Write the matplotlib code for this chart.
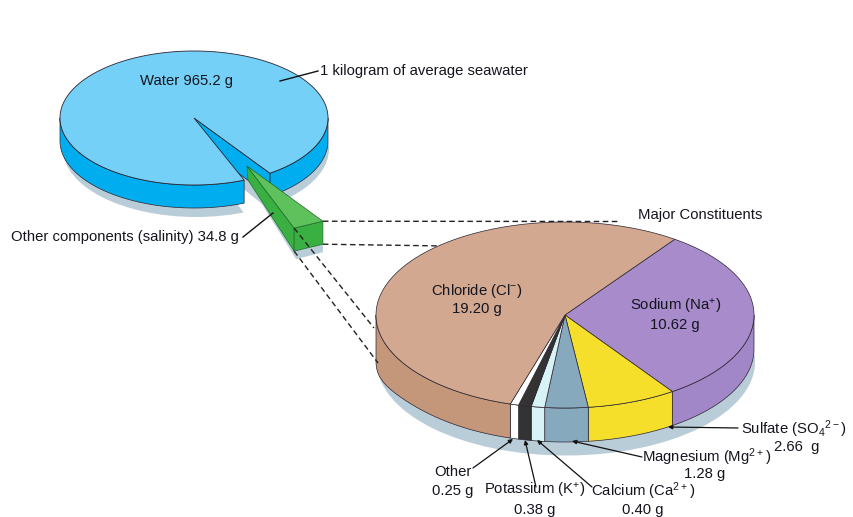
import numpy as np
import matplotlib
matplotlib.use("Agg")
import matplotlib.pyplot as plt
from matplotlib.patches import Polygon, Ellipse

plt.rcParams['font.family'] = ['Liberation Sans', 'DejaVu Sans']
plt.rcParams['mathtext.fontset'] = 'custom'
plt.rcParams['mathtext.rm'] = 'Liberation Sans'
plt.rcParams['mathtext.default'] = 'regular'

# grams per kilogram of seawater
water_g = 965.2
salinity_g = 34.8

major_names = ['Sodium', 'Sulfate', 'Magnesium', 'Calcium', 'Potassium', 'Other', 'Chloride']
major_g = [10.62, 2.66, 1.28, 0.40, 0.38, 0.25, 19.20]
major_top = ['#A88BCB', '#F5DF2A', '#87A9BE', '#D8F3F6', '#333333', '#FFFFFF', '#D2A890']
major_side = ['#A287C8', '#F5DF2A', '#87A9BE', '#D8F3F6', '#333333', '#FFFFFF', '#C4967A']

TEXT = '#15151f'
LINE = '#2b2430'
SHADOW = '#B9CDD9'

fig = plt.figure(figsize=(8.54, 5.17), dpi=100)
ax = fig.add_axes([0, 0, 1, 1])
ax.set_xlim(0, 854)
ax.set_ylim(517, 0)
ax.axis('off')


def arc(cx, cy, a, b, t0, t1):
    t = np.radians(np.linspace(t0, t1, max(int(abs(t1 - t0)) * 2, 2)))
    return np.column_stack([cx + a * np.cos(t), cy + b * np.sin(t)])


def top_face(cx, cy, a, b, t0, t1, color, z, lw=0.6):
    pts = np.vstack([[cx, cy], arc(cx, cy, a, b, t0, t1)])
    ax.add_patch(Polygon(pts, closed=True, fc=color, ec=LINE, lw=lw, zorder=z))


def side_face(cx, cy, a, b, depth, t0, t1, color, z, flare=0):
    # only the part of the rim that faces the viewer is drawn
    for lo, hi in [(-360, -180), (0, 180), (360, 540)]:
        s, e = max(t0, lo), min(t1, hi)
        if e <= s:
            continue
        upper = arc(cx, cy, a, b, s, e)
        # the rim gets a little deeper towards its far left end
        c = (upper[:, 0] - cx) / a
        drop = depth + flare * np.where(c < 0, c, 0) ** 12
        lower = (upper + np.column_stack([np.zeros(len(c)), drop]))[::-1]
        ax.add_patch(Polygon(np.vstack([upper, lower]), closed=True, fc=color,
                             ec=LINE, lw=0.5, zorder=z))


# small pie: water plus the pulled out salinity slice
cx1, cy1, a1, b1, d1 = 194, 118, 134, 67, 23
salt_start = 55.5
salt_end = salt_start + salinity_g / (water_g + salinity_g) * 360
water_end = salt_start + 360
ax.add_patch(Ellipse((196, 149), 266, 136, fc=SHADOW, ec='none', zorder=1))

# gap in the shadow under the missing slice
gap = np.vstack([[cx1, cy1 + 31], arc(cx1, cy1 + 31, 134, 69, salt_start + 2, salt_end)])
ax.add_patch(Polygon(gap, closed=True, fc='white', ec='none', zorder=1.1))

side_face(cx1, cy1, a1, b1, d1, salt_end, water_end, '#00AEEF', 2)
p_r = arc(cx1, cy1, a1, b1, salt_start, salt_start + 0.01)[0]
wall = np.array([[cx1, cy1], p_r, p_r + [0, d1], [cx1, cy1 + d1]])
ax.add_patch(Polygon(wall, closed=True, fc='#00AEEF', ec=LINE, lw=0.5, zorder=2))
top_face(cx1, cy1, a1, b1, salt_end, water_end, '#75D0F7', 3)

# pulled out slice
ox, oy = 53, 48
gx, gy = cx1 + ox, cy1 + oy
g_r = arc(gx, gy, a1, b1, salt_start, salt_start + 0.01)[0]
g_l = arc(gx, gy, a1, b1, salt_end, salt_end + 0.01)[0] + [-3, 0]
g_apex = np.array([gx, gy])
ax.add_patch(Polygon([g_apex + [0, 14], g_l + [2, 31], g_r + [0, 31], g_r + [0, 20], g_l + [0, 20]],
                     closed=True, fc=SHADOW, ec='none', zorder=4))
ax.add_patch(Polygon([g_apex, g_apex + [1, 14], g_l + [0, d1], g_l], closed=True,
                     fc='#39B041', ec='#1d6b28', lw=0.5, zorder=5))
ax.add_patch(Polygon([g_l, g_r, g_r + [0, d1], g_l + [0, d1]], closed=True,
                     fc='#39B041', ec='#1d6b28', lw=0.5, zorder=5))
ax.add_patch(Polygon([g_apex, g_r, g_l], closed=True, fc='#5EC15C', ec='#1d6b28', lw=0.5, zorder=5))

# big pie: breakdown of the salinity slice
cx2, cy2, a2, b2, d2 = 565, 315, 189, 93, 34
ax.add_patch(Ellipse((566, 362), 378, 187, fc=SHADOW, ec='none', zorder=1))

angles = np.cumsum([0] + [g / sum(major_g) * 360 for g in major_g]) - 54.5
for i in range(len(major_g)):
    side_face(cx2, cy2, a2, b2, d2, angles[i], angles[i + 1], major_side[i], 2, flare=12)
for i in range(len(major_g)):
    top_face(cx2, cy2, a2, b2, angles[i], angles[i + 1], major_top[i], 3, lw=0.5)

# dashed guides from the pulled out slice to the big pie
for start, end, z in [(g_r, (618, 221.5), 4), (g_r + [0, d1], (445, 246), 0.5),
                      (g_l, (374, 328), 6), (g_l + [0, d1], (378, 363), 6)]:
    ax.plot([start[0], end[0]], [start[1], end[1]], color='#222222', lw=1.0,
            dashes=(4, 2.5), zorder=z)

# leaders
for x0, y0, x1, y1 in [(280, 81, 318, 71), (243, 237, 273, 213)]:
    ax.plot([x0, x1], [y0, y1], color='#111111', lw=1.0, zorder=7)

arrows = [((738, 428), (668, 427)), ((642, 457), (572, 441)), ((473, 468), (513, 439)),
          ((536, 487), (525, 440)), ((592, 487), (537, 440))]
for tail, head in arrows:
    ax.annotate('', xy=head, xytext=tail, zorder=7,
                arrowprops=dict(arrowstyle='-|>', color='#111111', lw=0.9,
                                mutation_scale=6, shrinkA=0, shrinkB=0))

# labels
FS = 10.7
labels = [
    (187, 81, 'center', 'Water 965.2 g'),
    (320, 71, 'left', '1 kilogram of average seawater'),
    (11, 237, 'left', 'Other components (salinity) 34.8 g'),
    (638, 215, 'left', 'Major Constituents'),
    (477, 291, 'center', 'Chloride (Cl$^{-}$)'),
    (477, 309, 'center', '19.20 g'),
    (676, 306, 'center', 'Sodium (Na$^{+}$)'),
    (675, 325, 'center', '10.62 g'),
    (741, 429, 'left', 'Sulfate (SO$_{4}$$^{2-}$)'),
    (797, 447, 'center', '2.66  g'),
    (642, 457, 'left', 'Magnesium (Mg$^{2+}$)'),
    (705, 474, 'center', '1.28 g'),
    (453, 472, 'center', 'Other'),
    (453, 491, 'center', '0.25 g'),
    (535, 491, 'center', 'Potassium (K$^{+}$)'),
    (535, 510, 'center', '0.38 g'),
    (643, 491, 'center', 'Calcium (Ca$^{2+}$)'),
    (643, 510, 'center', '0.40 g'),
]
for x, y, ha, s in labels:
    ax.text(x, y, s, ha=ha, va='center', fontsize=FS, color=TEXT, zorder=8)

fig.savefig('out.png', dpi=100, facecolor='white')
